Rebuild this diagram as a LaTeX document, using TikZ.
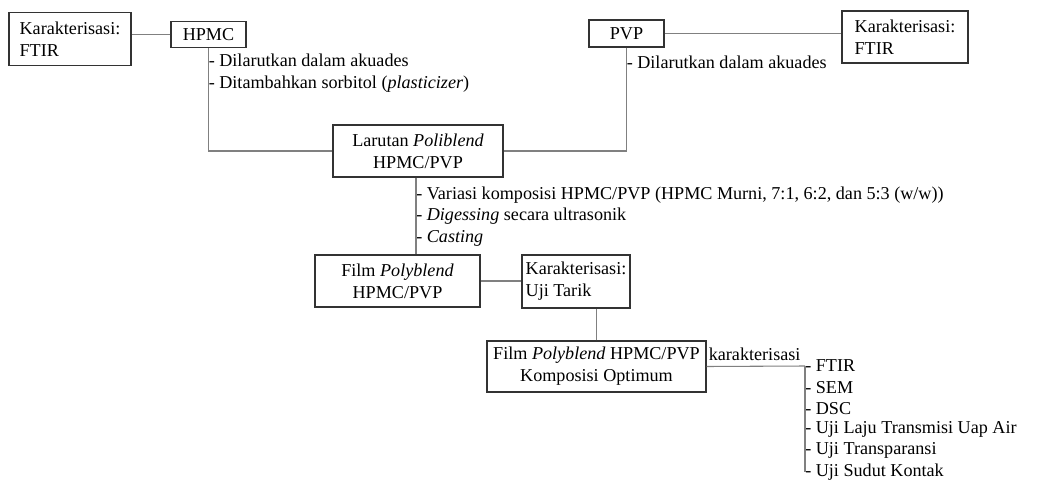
\documentclass[tikz,border=0pt]{standalone}
\usepackage{fontspec}
\setmainfont{Liberation Serif}
\usetikzlibrary{positioning,calc}

\tikzset{
  txt/.style={font=\fontsize{13.6}{16.3}\selectfont},
  box/.style={txt, draw=black!80, line width=0.8pt, inner sep=0pt, align=center, fill=white},
  lbox/.style={box, align=left},
  steps/.style={txt, inner sep=0pt, anchor=west, align=left},
  link/.style={draw=black!50, line width=0.8pt},
}

\begin{document}
\begin{tikzpicture}[x=0.75pt, y=-0.75pt]
\useasboundingbox (0,0) rectangle (1041,481);

% Bahan awal
\node[lbox, minimum width=91.5pt, minimum height=39.75pt] (ftirA) at (70,39) {Karakterisasi:\\FTIR};
\node[box, minimum width=56.25pt, minimum height=19.5pt] (hpmc) at (208.5,34.5) {HPMC};
\node[box, minimum width=56.25pt, minimum height=20.25pt] (pvp) at (626.5,33.5) {PVP};
\node[lbox, minimum width=94.5pt, minimum height=39pt] (ftirB) at (905,37) {Karakterisasi:\\FTIR};

% Larutan dan film
\node[box, minimum width=127.5pt, minimum height=39pt] (larutan) at (418,151) {Larutan \textit{Poliblend}\\HPMC/PVP};
\node[box, minimum width=123.75pt, minimum height=39pt] (film) at (397.5,281) {Film \textit{Polyblend}\\HPMC/PVP};
\node[lbox, minimum width=81pt, minimum height=39.75pt] (tarik) at (576,281.5) {Karakterisasi:\\Uji Tarik};
\node[box, minimum width=164.25pt, minimum height=38.25pt] (optimum) at (596.5,366.5) {Film \textit{Polyblend} HPMC/PVP\\Komposisi Optimum};

% Keterangan proses
\node[steps] (hpmcsteps) at (208.5,73) {- Dilarutkan dalam akuades\\- Ditambahkan sorbitol (\textit{plasticizer})};
\node[steps] (pvpsteps) at (626.5,62) {- Dilarutkan dalam akuades};
\node[steps] (blendsteps) at (416,216.5) {- Variasi komposisi HPMC/PVP (HPMC Murni, 7:1, 6:2, dan 5:3 (w/w))\\- \textit{Digessing} secara ultrasonik\\- \textit{Casting}};

% Karakterisasi film optimum
\foreach \t [count=\i] in {FTIR, SEM, DSC, Uji Laju Transmisi Uap Air, Uji Transparansi, Uji Sudut Kontak}
  \node[steps] (item\i) at (805,{366+21.2*(\i-1)}) {- \t};
\node[txt, inner sep=0pt, anchor=south west] (karlabel) at ([xshift=1.5pt, yshift=4pt]optimum.east) {karakterisasi};

% Garis penghubung
\draw[link] (hpmc.west) -- (hpmc.west -| ftirA.east);
\draw[link] (pvp.east) -- (pvp.east -| ftirB.west);
\draw[link] (hpmc.south) |- (larutan.west);
\draw[link] (pvp.south) |- (larutan.east);
\draw[link] ([xshift=-1.5pt]larutan.south) -- ([xshift=-1.5pt]larutan.south |- film.north);
\draw[link] (film.east) -- (film.east -| tarik.west);
\draw[link] (optimum.north) -- (optimum.north |- tarik.south);
\draw[link] (optimum.east) -- (item1.west);
\draw[link] (item1.west) -- (item6.west);
\end{tikzpicture}
\end{document}
